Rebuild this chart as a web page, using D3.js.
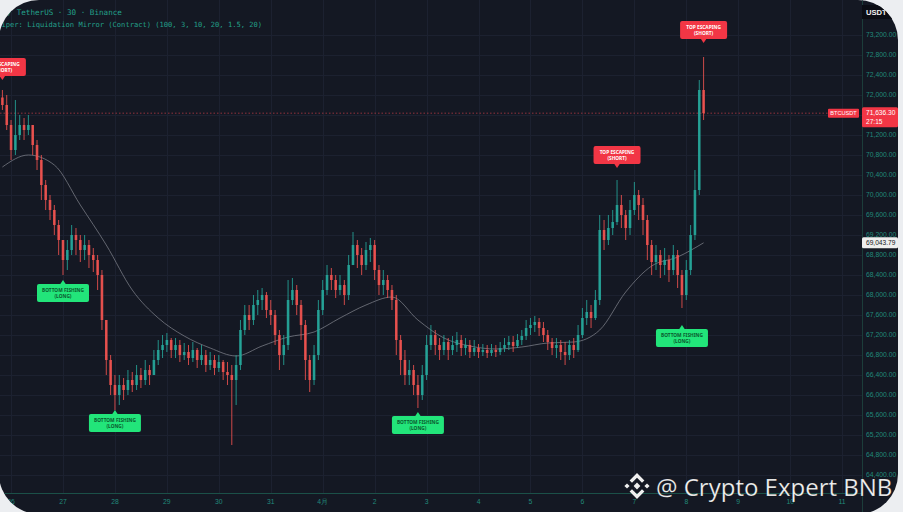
<!DOCTYPE html>
<html><head><meta charset="utf-8">
<script src="https://cdn.jsdelivr.net/npm/d3@7"></script>
<style>html,body{margin:0;padding:0;background:#eceef1;overflow:hidden}svg{display:block}</style>
</head><body><svg id="c" width="903" height="512"></svg>
<script>
// ---------- data ----------
const startOpen = 71950;
const closes = [71800,71400,70900,71200,71400,71300,71400,71000,70700,70200,
69900,69700,69400,69100,68700,68900,69200,69100,68900,69000,
68800,68700,68400,67500,66700,66200,66000,66200,66100,66300,
66200,66400,66300,66500,66400,66700,66900,67000,67100,66900,
67000,66800,66860,66740,66900,66700,66800,66600,66700,66540,
66660,66460,66400,66300,66600,67300,67600,67500,67800,67900,
68000,67700,67600,67200,66800,67000,67900,68100,67800,67400,
66700,66300,66800,67700,68100,68400,68300,68100,68200,68000,
68600,69000,68800,68600,68900,69000,68500,68200,68300,68100,
67900,67100,66700,66400,66500,66200,66000,66400,67000,67200,
67000,66900,67060,66900,67000,67100,66940,67000,66860,66940,
66860,66900,66840,66900,66860,66940,67000,67060,66980,67100,
67180,67340,67400,67460,67340,67200,67060,66940,67000,66860,
66800,67000,66900,67200,67540,67660,67540,67900,69300,69100,
69340,69460,69800,69600,69340,69700,70000,69800,69500,69000,
68660,68800,68600,68700,68500,68800,68400,68000,68500,69200,
70100,72100,71636.3];
const highs = [72100,72000,71500,71900,71600,71540,71600,71400,71100,70800,
70300,70000,69800,69500,69100,69100,69400,69340,69200,69200,
69100,68940,68800,68500,67500,66800,66400,66400,66340,66500,
66460,66600,66540,66700,66600,66900,67100,67200,67240,67140,
67140,67100,67040,67000,67060,66940,67000,66900,66860,66800,
66800,66700,66660,66600,66800,67500,67800,67800,68000,68100,
68140,68060,67900,67700,67300,67200,68300,68340,68200,67900,
67500,66800,67000,67900,68300,68600,68540,68400,68400,68300,
68800,69260,69100,68940,69060,69140,69100,68600,68500,68400,
68200,68000,67200,66900,66700,66600,66400,66600,67200,67400,
67300,67140,67200,67140,67180,67260,67200,67140,67100,67100,
67020,67020,67000,67020,67000,67060,67140,67180,67180,67220,
67300,67500,67540,67580,67540,67460,67300,67140,67140,67100,
67060,67100,67140,67400,67740,67900,67800,68100,69600,69500,
69600,69700,70300,70000,69700,69900,70260,70100,69940,69600,
69100,69000,68900,68940,68800,69000,68900,68500,68700,69400,
70500,72300,72760];
const lows = [71700,71300,70700,70800,71100,71100,71200,70800,70500,69900,
69700,69500,69200,68800,68400,68500,68800,68800,68660,68700,
68540,68460,68100,67300,66400,66000,65700,65800,65900,66000,
66060,66100,66140,66200,66200,66400,66600,66740,66860,66740,
66740,66660,66700,66600,66660,66540,66600,66460,66500,66400,
66460,66300,66200,65000,65800,66500,67200,67300,67400,67600,
67700,67540,67400,67000,66500,66600,66900,67800,67600,67100,
66300,66060,66200,66700,67600,68000,68100,67940,68000,67800,
67900,68600,68540,68400,68500,68660,68300,68000,68000,67940,
67700,66800,66400,66200,66200,66000,65740,65900,66300,66900,
66800,66700,66800,66700,66800,66860,66780,66800,66740,66780,
66740,66780,66740,66780,66760,66800,66860,66900,66860,66940,
67000,67100,67200,67260,67180,67060,66900,66800,66740,66700,
66600,66700,66740,66860,67140,67400,67340,67500,67800,68900,
69000,69200,69400,69340,69100,69200,69600,69500,69200,68700,
68400,68500,68340,68400,68260,68400,68140,67740,67900,68400,
69100,70000,71500];
// moving average, one reading every 6 candles
const maStep = 6;
const maValues = [70560,70800,70600,69800,69000,68100,67540,67180,66940,66780,
66980,67160,67260,67540,67800,67960,67500,67140,66980,66920,
66960,67040,67060,67300,68060,68580,68760,69043.79];
const priceTicks = d3.range(64400, 73201, 400);
const dayLabels = ["26","27","28","29","30","31","4月","2","3","4","5","6","7","8","9","10","11"];
const signalIndex = [0, 14, 26, 96, 142, 157, 162];
const signalType  = ["top","bottom","bottom","bottom","top","bottom","top"];
const signalPrice = [72300, 68300, 65700, 65660, 70540, 67400, 73040];
const lastPrice = 71636.30, maLast = 69043.79, countdown = "27:15", symbol = "BTCUSDT";
const header1 = "Bitcoin / TetherUS · 30 · Binance";
const header2 = "Sniper: Liquidation Mirror (Contract) (100, 3, 10, 20, 1.5, 20)";

// ---------- setup ----------
const W = 903, H = 512, plotR = 862, plotB = 493;
const svg = d3.select("#c");
const defs = svg.append("defs");
defs.append("clipPath").attr("id","panel").append("rect")
  .attr("x",-1).attr("y",0).attr("width",899).attr("height",514).attr("rx",40);
defs.append("clipPath").attr("id","plot").append("rect")
  .attr("x",0).attr("y",0).attr("width",plotR).attr("height",plotB);

const root = svg.append("g").attr("clip-path","url(#panel)");
root.append("rect").attr("x",-1).attr("y",0).attr("width",902).attr("height",514).attr("fill","#141823");

const HOUR = 3600e3;
const t0 = new Date(2024, 2, 25, 20);
const times = closes.map((_, i) => new Date(+t0 + i * 2 * HOUR));
const x = d3.scaleTime().domain([t0, times[times.length-1]]).range([2.4, 703.6]);
const y = d3.scaleLinear().domain([72000, 64400]).range([95, 475]);

const days = d3.timeDay.range(new Date(2024,2,26), new Date(2024,3,12));

// grid
const grid = root.append("g").attr("clip-path","url(#plot)");
grid.selectAll(".hg").data(priceTicks).join("line")
  .attr("x1",0).attr("x2",plotR).attr("y1",d=>y(d)+0.5).attr("y2",d=>y(d)+0.5)
  .attr("stroke","#1c2130").attr("stroke-width",1);
grid.selectAll(".vg").data(days).join("line")
  .attr("y1",0).attr("y2",plotB).attr("x1",d=>Math.round(x(d))+0.5).attr("x2",d=>Math.round(x(d))+0.5)
  .attr("stroke","#1c2130").attr("stroke-width",1);

// header
root.append("text").attr("x",-29).attr("y",15).text(header1)
  .attr("font-family","DejaVu Sans Mono").attr("font-size",7.6).attr("fill","#23a08a");
root.append("text").attr("x",-7).attr("y",26.5).text(header2)
  .attr("font-family","DejaVu Sans Mono").attr("font-size",7.1).attr("fill","#23a08a");

// plot content
const plot = root.append("g").attr("clip-path","url(#plot)");

// last price dotted line
plot.append("line").attr("x1",0).attr("x2",828).attr("y1",y(lastPrice)).attr("y2",y(lastPrice))
  .attr("stroke","#b33a45").attr("stroke-width",1).attr("stroke-dasharray","1.5,2").attr("opacity",0.8);

// MA
const maLine = d3.line().x((d,k)=>x(times[Math.min(k*maStep, times.length-1)])).y(d=>y(d)).curve(d3.curveMonotoneX);
plot.append("path").datum(maValues).attr("d",maLine)
  .attr("fill","none").attr("stroke","#7d808a").attr("stroke-width",1).attr("opacity",0.75);

// candles
const opens = closes.map((c,i)=> i===0 ? startOpen : closes[i-1]);
const up = "#26a69a", down = "#ef5350";
const cg = plot.append("g");
closes.forEach((c,i)=>{
  const o = opens[i], cx = x(times[i]);
  const col = c >= o ? up : down;
  cg.append("line").attr("x1",cx).attr("x2",cx)
    .attr("y1",y(Math.max(highs[i],o,c))).attr("y2",y(Math.min(lows[i],o,c)))
    .attr("stroke",col).attr("stroke-width",1).attr("opacity",0.85);
  const yt = y(Math.max(o,c)), yb = y(Math.min(o,c));
  cg.append("rect").attr("x",cx-1.3).attr("width",2.6)
    .attr("y",yt).attr("height",Math.max(1,yb-yt)).attr("fill",col).attr("opacity",0.9);
});

// signal labels
const sg = plot.append("g");
signalIndex.forEach((idx,k)=>{
  const cx = x(times[idx]), tip = y(signalPrice[k]);
  const isTop = signalType[k] === "top";
  const w = isTop ? 47 : 52, h = 18;
  const fill = isTop ? "#f23645" : "#22e57a";
  const tcol = isTop ? "#ffffff" : "#0b5a2e";
  const by = isTop ? tip - 4 - h : tip + 4;
  sg.append("rect").attr("x",cx-w/2).attr("y",by).attr("width",w).attr("height",h).attr("rx",2).attr("fill",fill);
  const tri = isTop ? [[cx-3,tip-4.5],[cx+3,tip-4.5],[cx,tip]] : [[cx-3,tip+4.5],[cx+3,tip+4.5],[cx,tip]];
  sg.append("path").attr("d","M"+tri.map(p=>p.join(",")).join("L")+"Z").attr("fill",fill);
  const lines = isTop ? ["TOP ESCAPING","(SHORT)"] : ["BOTTOM FISHING","(LONG)"];
  lines.forEach((s,j)=>{
    sg.append("text").attr("x",cx).attr("y",by+7.5+j*6).attr("text-anchor","middle")
      .attr("font-family","Noto Sans").attr("font-weight","bold").attr("font-size",4.8)
      .attr("fill",tcol).text(s);
  });
});

// symbol tag on price line
root.append("rect").attr("x",828).attr("y",y(lastPrice)-4.5).attr("width",31).attr("height",9).attr("rx",1).attr("fill","#f23645");
root.append("text").attr("x",843.5).attr("y",y(lastPrice)+2).attr("text-anchor","middle")
  .attr("font-family","Liberation Sans").attr("font-size",5.6).attr("fill","#fff").text(symbol);

// axes
root.append("line").attr("x1",plotR+0.5).attr("x2",plotR+0.5).attr("y1",0).attr("y2",H)
  .attr("stroke","#1c3d3a").attr("stroke-width",1);
root.append("line").attr("x1",0).attr("x2",plotR).attr("y1",plotB+0.5).attr("y2",plotB+0.5)
  .attr("stroke","#1b5048").attr("stroke-width",1);

const fmt = d3.format(",.2f");
const yLast = y(lastPrice);
root.selectAll(".yl").data(priceTicks.filter(v => Math.abs(y(v)-yLast) > 10)).join("text")
  .attr("x",866).attr("y",d=>y(d)+2.4)
  .attr("font-family","Liberation Sans").attr("font-size",6.8).attr("fill","#21897a").text(d=>fmt(d));

root.selectAll(".xl").data(days).join("text")
  .attr("x",d=>x(d)).attr("y",503.5).attr("text-anchor","middle")
  .attr("font-family","Liberation Sans").attr("font-size",6.8).attr("fill","#21897a")
  .text((d,i)=>dayLabels[i]);

// last price label on axis
root.append("rect").attr("x",862).attr("y",yLast-6).attr("width",36).attr("height",20).attr("rx",1.5).attr("fill","#f23645");
root.append("text").attr("x",866).attr("y",yLast+1.8).attr("font-family","Liberation Sans").attr("font-size",6.6).attr("fill","#fff").text(fmt(lastPrice));
root.append("text").attr("x",866).attr("y",yLast+10.5).attr("font-family","Liberation Sans").attr("font-size",6.6).attr("fill","#fff").text(countdown);

// MA value label
const yMa = y(maLast);
root.append("rect").attr("x",862).attr("y",yMa-5.5).attr("width",36).attr("height",11).attr("rx",1.5).attr("fill","#eeeeee");
root.append("text").attr("x",866).attr("y",yMa+2.4).attr("font-family","Liberation Sans").attr("font-size",6.6).attr("fill","#131722").text(fmt(maLast));

// currency tag
root.append("rect").attr("x",862).attr("y",5).attr("width",36).attr("height",14).attr("fill","#0b0d14");
root.append("text").attr("x",866).attr("y",15).attr("font-family","Liberation Sans").attr("font-weight","bold")
  .attr("font-size",7.6).attr("fill","#f2f2f2").text("USDT");

// watermark
const wm = svg.append("g");
const lx = 637, ly = 486;
const logo = [
  "M0,-3.4L3.4,0L0,3.4L-3.4,0Z",
  "M-10,-2.6L-7.4,0L-10,2.6L-12.6,0Z",
  "M10,-2.6L12.6,0L10,2.6L7.4,0Z",
  "M0,-13L7.4,-5.6L5,-3.2L0,-8.2L-5,-3.2L-7.4,-5.6Z",
  "M0,13L7.4,5.6L5,3.2L0,8.2L-5,3.2L-7.4,5.6Z"
];
logo.forEach(p => wm.append("path").attr("d",p).attr("transform",`translate(${lx},${ly})`).attr("fill","#f0f0f0"));
wm.append("text").attr("x",656).attr("y",496).attr("font-family","Open Sans").attr("font-size",24)
  .attr("fill","#f2f2f2").attr("stroke","#000").attr("stroke-opacity",0.25).attr("stroke-width",0.6)
  .text("@ Crypto Expert BNB");
</script></body></html>
